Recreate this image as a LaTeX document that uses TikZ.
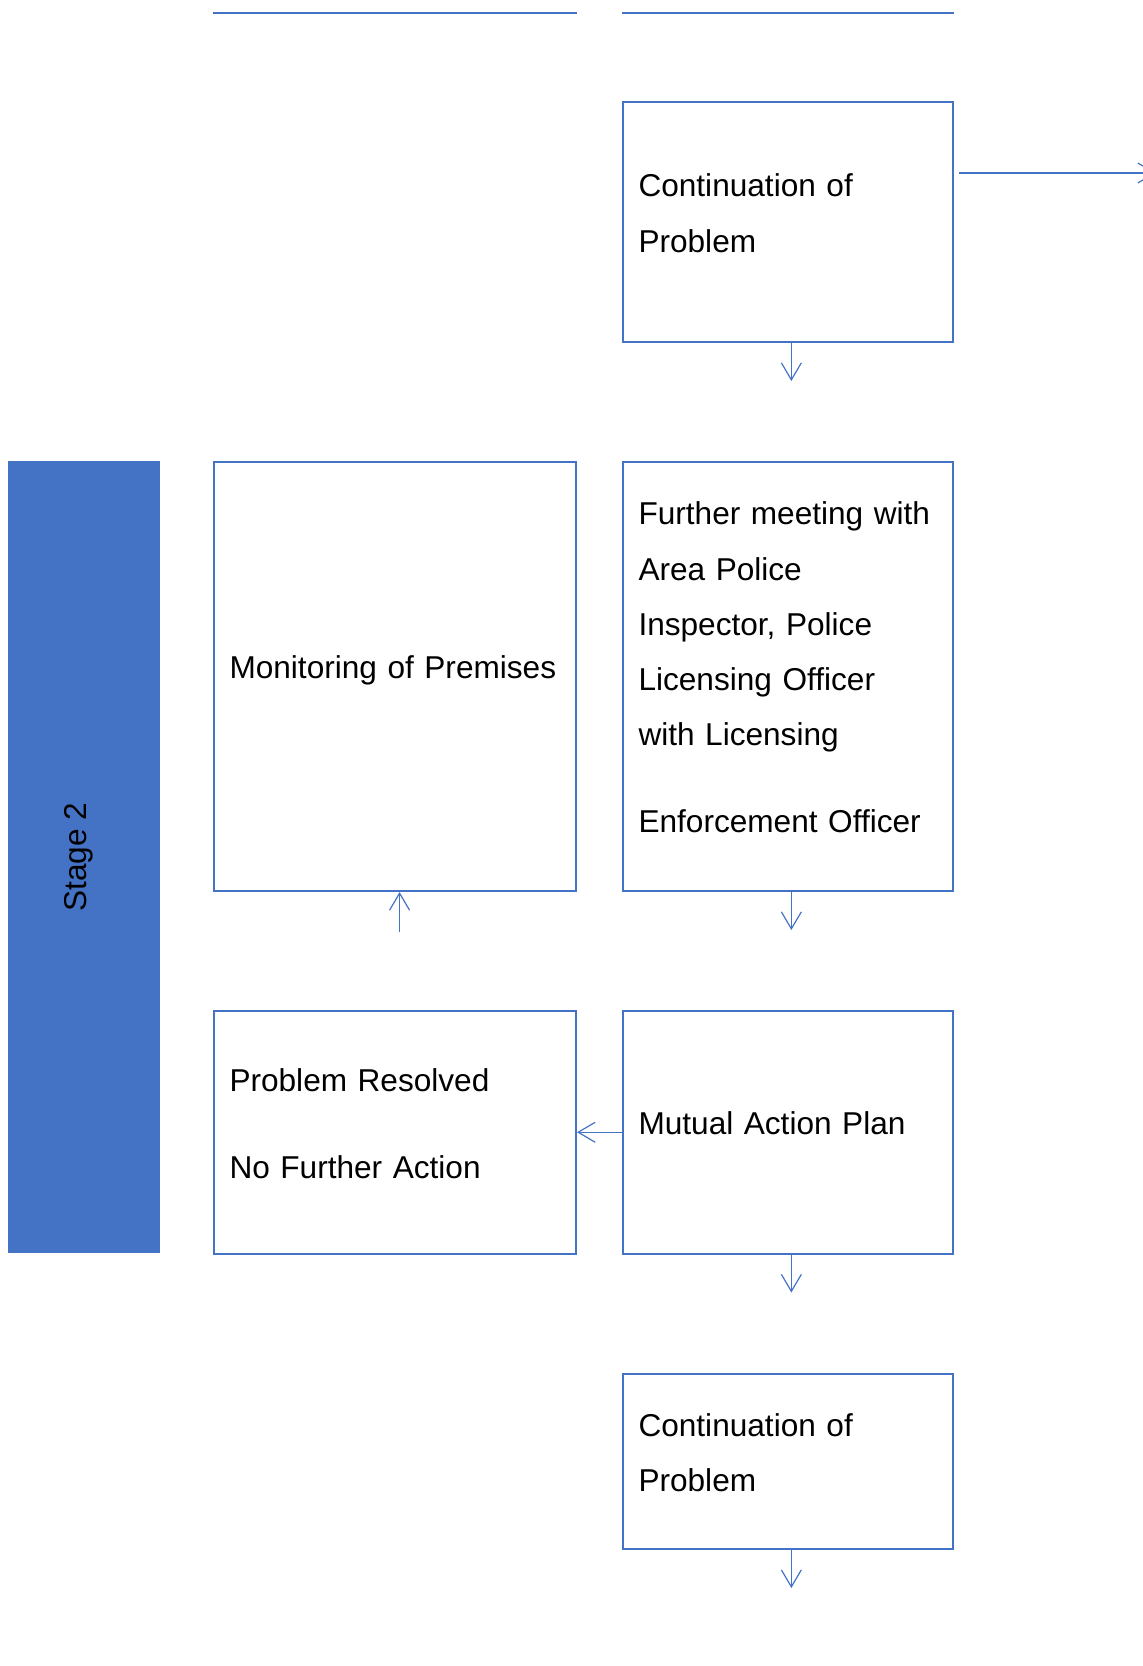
\documentclass[tikz,border=0pt]{standalone}
\usepackage{fontspec}
\setmainfont{Liberation Sans}
\usepackage{tikz}
\usetikzlibrary{positioning, arrows.meta}
\definecolor{boxblue}{HTML}{4472C4}
\tikzstyle{Arrow} = [
    boxblue,
    line width = 0.6pt,
    -{Straight Barb[length=8.5pt, width=10pt]}
]

\begin{document}
\begin{tikzpicture}[
box/.style={
    rectangle,
    draw = boxblue,
    line width = 1pt,
    align = left,
    text width = 149.25pt,
    inner xsep = 8pt,
    font = \fontsize{15.8pt}{27.6pt}\selectfont,
    execute at end node = {\rule[-9pt]{0pt}{0pt}}
    },
widebox/.style={
    box,
    text width = 165.25pt
    },
bar/.style={
    rectangle,
    fill = boxblue,
    inner sep = 0pt,
    minimum width = 76pt,
    minimum height = 395.75pt
    }
]
\useasboundingbox (0,0) rectangle (571.5pt,-833pt);

\node [box, minimum height = 120pt] (1) at (393.875pt,-111pt) {Continuation of\\Problem};
\node [box, minimum height = 214.5pt, below = 59pt of 1] (2) {
    Further meeting with\\Area Police\\Inspector, Police\\Licensing Officer\\with Licensing\\[16pt]Enforcement Officer
};
\node [widebox, minimum height = 214.5pt, left = 22.25pt of 2] (3) {\mbox{Monitoring of Premises}};
\node [box, minimum height = 121.25pt, below = 59pt of 2] (4) {Mutual Action Plan};
\node [widebox, minimum height = 121.25pt, left = 22.25pt of 4] (5) {Problem Resolved\\[16pt]No Further Action};
\node [box, minimum height = 87.75pt, below = 59pt of 4] (6) {Continuation of\\Problem};

\node [bar, left = 26.05pt of 3.north west, anchor = north east] (7) {};
\node [rotate = 90, font = \fontsize{15.8pt}{19pt}\selectfont] (8) at ([xshift=-2.4pt]7.center) {Stage 2};

\coordinate (top) at (0,-6.35pt);
\draw [boxblue, line width = 1pt] (top -| 3.west) -- (top -| 3.east);
\draw [boxblue, line width = 1pt] (top -| 2.west) -- (top -| 2.east);

\coordinate (1side) at ([xshift=2.5pt, yshift=24.5pt]1.east);
\coordinate (1away) at ([xshift=98.5pt]1side);
\coordinate (1out) at ([xshift=1.8pt, yshift=-19pt]1.south);
\coordinate (2out) at ([xshift=1.8pt, yshift=-19pt]2.south);
\coordinate (3in) at ([xshift=2.4pt, yshift=-19.75pt]3.south);
\coordinate (4out) at ([xshift=1.8pt, yshift=-19pt]4.south);
\coordinate (6out) at ([xshift=1.8pt, yshift=-19pt]6.south);

\draw[Arrow] (1side) -- (1away);
\draw[Arrow] ([xshift=1.8pt]1.south) -- (1out);
\draw[Arrow] ([xshift=1.8pt]2.south) -- (2out);
\draw[Arrow] (3in) -- ([xshift=2.4pt]3.south);
\draw[Arrow] (4.west) -- (5.east);
\draw[Arrow] ([xshift=1.8pt]4.south) -- (4out);
\draw[Arrow] ([xshift=1.8pt]6.south) -- (6out);

\end{tikzpicture}
\end{document}
